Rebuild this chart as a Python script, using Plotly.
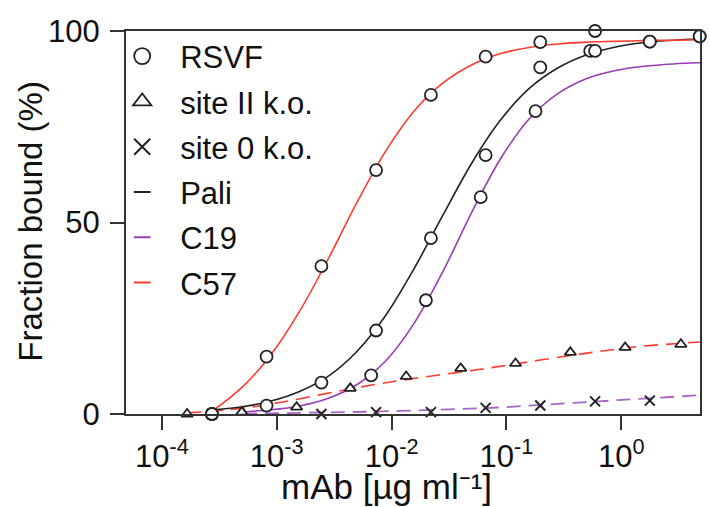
import plotly.graph_objects as go

# ---------------- data ----------------
# RSVF binding, measured points (µg/ml, % bound)
c57_conc = [2.73e-4, 8.16e-4, 2.45e-3, 7.33e-3, 0.0220, 0.0659, 0.197, 0.591, 1.77, 4.81]
c57_bound = [0.0, 15.0, 38.6, 63.7, 83.3, 93.3, 97.1, 100.0, 97.2, 98.6]
pali_conc = [2.73e-4, 8.16e-4, 2.45e-3, 7.33e-3, 0.0220, 0.0659, 0.197, 0.591, 1.77, 4.81]
pali_bound = [0.0, 2.2, 8.2, 21.8, 45.9, 67.6, 90.5, 94.8, 97.2, 98.6]
c19_conc = [6.64e-3, 0.0199, 0.0597, 0.179, 0.536]
c19_bound = [10.1, 29.7, 56.6, 79.1, 94.8]

# site II k.o. (triangles) and site 0 k.o. (crosses)
site2_conc = [1.66e-4, 4.97e-4, 1.49e-3, 4.37e-3, 0.0134, 0.0400, 0.120, 0.360, 1.08, 3.30]
site2_bound = [0.0, 0.5, 1.8, 6.7, 9.8, 11.9, 13.2, 16.1, 17.4, 18.2]
site0_conc = [2.73e-4, 2.45e-3, 7.33e-3, 0.0220, 0.0659, 0.197, 0.591, 1.77]
site0_bound = [0.0, 0.0, 0.5, 0.5, 1.6, 2.2, 3.3, 3.5]

# fitted curves
c57_fit_conc = [2.88e-4, 5.01e-4, 8.91e-4, 1.58e-3, 2.82e-3, 5.01e-3, 8.91e-3, 0.0158, 0.0282,
                0.0501, 0.0891, 0.158, 0.282, 0.501, 0.891, 1.58, 2.82, 4.90]
c57_fit = [1.2, 7.0, 15.5, 26.8, 40.6, 55.3, 68.7, 79.2, 86.5, 91.2, 94.1, 95.7, 96.6,
           97.1, 97.3, 97.5, 97.6, 97.7]
pali_fit_conc = [2.82e-4, 5.01e-4, 8.91e-4, 1.58e-3, 2.82e-3, 5.01e-3, 8.91e-3, 0.0158, 0.0282,
                 0.0501, 0.0891, 0.158, 0.282, 0.501, 0.891, 1.58, 2.82, 4.90]
pali_fit = [1.1, 1.9, 3.4, 5.9, 9.9, 16.4, 25.8, 38.1, 52.1, 65.6, 76.8, 85.0, 90.4, 93.8,
            95.8, 97.0, 97.6, 98.0]
c19_fit_conc = [5.01e-4, 8.91e-4, 1.58e-3, 2.82e-3, 5.01e-3, 8.91e-3, 0.0158, 0.0282, 0.0501,
                0.0891, 0.158, 0.282, 0.501, 0.891, 1.58, 2.82, 4.90]
c19_fit = [0.6, 1.1, 2.1, 4.1, 7.7, 13.9, 23.8, 37.4, 52.8, 66.7, 77.1, 83.7, 87.6, 89.7,
           90.8, 91.4, 91.7]
site2_fit_conc = [1.66e-4, 2.91e-4, 5.30e-4, 1.06e-3, 2.35e-3, 5.22e-3, 0.0116, 0.0258, 0.0573,
                  0.127, 0.283, 0.630, 1.40, 3.11, 4.83]
site2_fit = [0.3, 0.8, 1.6, 3.0, 5.0, 7.0, 8.7, 10.2, 11.6, 13.2, 14.8, 16.3, 17.6, 18.4, 18.8]
site0_fit_conc = [5.07e-4, 1.58e-3, 4.29e-3, 0.0116, 0.0315, 0.0853, 0.231, 0.631, 1.71, 4.83]
site0_fit = [0.1, 0.3, 0.5, 0.8, 1.2, 1.7, 2.5, 3.3, 4.1, 4.9]

x_tickvals = [1e-4, 1e-3, 1e-2, 1e-1, 1]
x_ticktext = ["10<sup>-4</sup>", "10<sup>-3</sup>", "10<sup>-2</sup>", "10<sup>-1</sup>", "10<sup>0</sup>"]
y_tickvals = [0, 50, 100]

# ---------------- styles ----------------
BLACK = "#222222"
RED = "#ff3b2f"
PURPLE = "#9a3db5"
PURPLE_D = "#a865c6"
FONT = "Liberation Sans, Arial, sans-serif"

fig = go.Figure()

# fit lines
fig.add_trace(go.Scatter(x=site0_fit_conc, y=site0_fit, mode="lines", line=dict(color=PURPLE_D, width=1.8, dash="14px,8px", shape="spline"), showlegend=False, cliponaxis=False))
fig.add_trace(go.Scatter(x=site2_fit_conc, y=site2_fit, mode="lines", line=dict(color=RED, width=1.6, dash="14px,8px", shape="spline"), showlegend=False, cliponaxis=False))
fig.add_trace(go.Scatter(x=c19_fit_conc, y=c19_fit, mode="lines", line=dict(color=PURPLE, width=1.6, shape="spline"), showlegend=False, cliponaxis=False))
fig.add_trace(go.Scatter(x=pali_fit_conc, y=pali_fit, mode="lines", line=dict(color=BLACK, width=1.6, shape="spline"), showlegend=False, cliponaxis=False))
fig.add_trace(go.Scatter(x=c57_fit_conc, y=c57_fit, mode="lines", line=dict(color=RED, width=1.6, shape="spline"), showlegend=False, cliponaxis=False))

# markers
circ = dict(symbol="circle", size=12, color="white", line=dict(color=BLACK, width=1.8))
tri = dict(symbol="triangle-up", size=10, color="white", line=dict(color=BLACK, width=1.8))
crs = dict(symbol="x-thin", size=10, color=BLACK, line=dict(color=BLACK, width=2))
fig.add_trace(go.Scatter(x=site0_conc, y=site0_bound, mode="markers", marker=crs, showlegend=False, cliponaxis=False))
fig.add_trace(go.Scatter(x=site2_conc, y=site2_bound, mode="markers", marker=tri, showlegend=False, cliponaxis=False))
fig.add_trace(go.Scatter(x=c19_conc, y=c19_bound, mode="markers", marker=circ, showlegend=False, cliponaxis=False))
fig.add_trace(go.Scatter(x=pali_conc, y=pali_bound, mode="markers", marker=circ, showlegend=False, cliponaxis=False))
fig.add_trace(go.Scatter(x=c57_conc, y=c57_bound, mode="markers", marker=circ, showlegend=False, cliponaxis=False))

# legend entries
leg_items = [
    ("RSVF", dict(symbol="circle", size=16, color="white", line=dict(color=BLACK, width=1.8))),
    ("site II k.o.", dict(symbol="triangle-up", size=16, color="white", line=dict(color=BLACK, width=1.8))),
    ("site 0 k.o.", dict(symbol="x-thin", size=16, color=BLACK, line=dict(color=BLACK, width=2))),
    ("Pali", dict(symbol="line-ew", size=12, color=BLACK, line=dict(color=BLACK, width=2))),
    ("C19", dict(symbol="line-ew", size=12, color=PURPLE, line=dict(color=PURPLE, width=2))),
    ("C57", dict(symbol="line-ew", size=12, color=RED, line=dict(color=RED, width=2))),
]
for name, mk in leg_items:
    fig.add_trace(go.Scatter(x=[None], y=[None], mode="markers", name=name, marker=mk,
                             legendgroup=name, showlegend=True))

axis_common = dict(showline=True, linecolor="#333333", linewidth=2, mirror=True,
                   ticks="outside", ticklen=14, tickwidth=2, tickcolor="#333333",
                   showgrid=False, zeroline=False,
                   tickfont=dict(family=FONT, size=31, color="#111111"))

fig.update_xaxes(type="log", range=[-4.312, 0.685], tickvals=x_tickvals, ticktext=x_ticktext, **axis_common)
fig.update_yaxes(range=[0, 100], tickvals=y_tickvals, ticklabelstandoff=4, **axis_common)

fig.update_layout(
    width=710, height=507,
    margin=dict(l=126, r=8, t=31, b=93),
    paper_bgcolor="white", plot_bgcolor="white",
    font=dict(family=FONT, color="#111111"),
    legend=dict(x=-0.038, y=1.004, xanchor="left", yanchor="top", bgcolor="rgba(0,0,0,0)",
                font=dict(family=FONT, size=31, color="#111111"),
                itemsizing="trace", tracegroupgap=2, itemwidth=66, maxheight=480),
    annotations=[
        dict(text="mAb [µg ml⁻¹]", xref="paper", yref="paper", x=0.453, y=-0.19,
             xanchor="center", yanchor="middle", showarrow=False,
             font=dict(family=FONT, size=35, color="#111111")),
        dict(text="Fraction bound (%)", xref="paper", yref="paper", x=-0.166, y=0.504,
             xanchor="center", yanchor="middle", textangle=-90, showarrow=False,
             font=dict(family=FONT, size=33, color="#111111")),
    ],
)

fig.write_html("out.html", config={"displayModeBar": False},
               post_script="document.body.style.margin='0';document.body.style.overflow='hidden';")
